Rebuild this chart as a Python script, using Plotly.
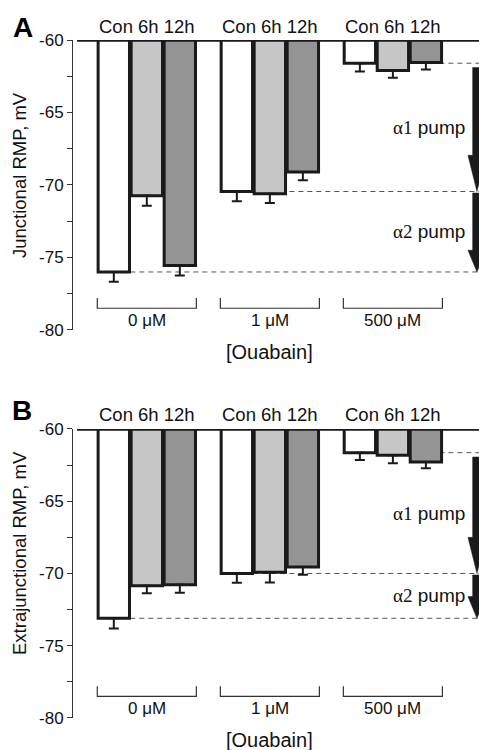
import plotly.graph_objects as go

# ---------------- data ----------------
groups = ["0 \u03bcM", "1 \u03bcM", "500 \u03bcM"]
conditions = ["Con", "6h", "12h"]
group_x = [0, 1, 2]

A_con = [-76.0, -70.45, -61.6]
A_6h = [-70.75, -70.6, -62.1]
A_12h = [-75.55, -69.1, -61.55]
A_con_err = [0.67, 0.68, 0.57]
A_6h_err = [0.69, 0.64, 0.5]
A_12h_err = [0.7, 0.58, 0.48]

B_con = [-73.1, -70.0, -61.64]
B_6h = [-70.84, -69.92, -61.82]
B_12h = [-70.78, -69.55, -62.28]
B_con_err = [0.7, 0.64, 0.5]
B_6h_err = [0.53, 0.7, 0.55]
B_12h_err = [0.55, 0.53, 0.44]

y_ticks = [-80, -75, -70, -65, -60]
y_titles = ["Junctional RMP, mV", "Extrajunctional RMP, mV"]
panel_letters = ["A", "B"]
x_title = "[Ouabain]"
pump_labels = ['<span style="font-family:Liberation Serif,serif">\u03b11</span> pump',
               '<span style="font-family:Liberation Serif,serif">\u03b12</span> pump']

# ---------------- style ----------------
colors = ["#ffffff", "#c6c6c6", "#949494"]
edge = "#1a1a1a"
FONT = "Liberation Sans, Arial, sans-serif"
BARGAP = 0.195
GROUPW = 1 - BARGAP
BAR_SLOT = GROUPW / 3

fig = go.Figure()

panels = [
    dict(vals=[A_con, A_6h, A_12h], errs=[A_con_err, A_6h_err, A_12h_err],
         xa="x", ya="y", dom=[0.5723, 1.0], xtitle_y=0.5398),
    dict(vals=[B_con, B_6h, B_12h], errs=[B_con_err, B_6h_err, B_12h_err],
         xa="x2", ya="y2", dom=[0.0, 0.4263], xtitle_y=-0.0324),
]

shapes = []
annotations = []

for p, pan in enumerate(panels):
    for i, cond in enumerate(conditions):
        fig.add_trace(go.Bar(
            x=group_x, y=pan["vals"][i], name=cond,
            xaxis=pan["xa"], yaxis=pan["ya"],
            marker=dict(color=colors[i], line=dict(color=edge, width=3)),
            error_y=dict(type="data", symmetric=False,
                         array=[0] * len(group_x), arrayminus=pan["errs"][i],
                         color=edge, thickness=2, width=5),
            showlegend=False, hoverinfo="skip",
        ))
    yref = pan["ya"]
    xref = pan["xa"]
    con = pan["vals"][0]
    # thick baseline at -60
    shapes.append(dict(type="line", xref="paper", yref=yref, x0=0.01, x1=1.0,
                       y0=-60, y1=-60, line=dict(color=edge, width=3.5), layer="above"))
    # dashed reference lines at control levels
    for g, v in zip(group_x, con):
        x0 = g - GROUPW / 2 + BAR_SLOT
        shapes.append(dict(type="line", xref=xref, yref=yref, x0=x0, x1=2.7,
                           y0=v, y1=v, line=dict(color="#555555", width=1, dash="5px,4px"),
                           layer="below"))
    # brackets under each group
    for g, lab in zip(group_x, groups):
        xl, xr = g - GROUPW / 2, g + GROUPW / 2
        shapes.append(dict(type="path", xref=xref, yref=yref,
                           path=f"M {xl},-77.8 L {xl},-78.5 L {xr},-78.5 L {xr},-77.8",
                           line=dict(color="#333333", width=1.2)))
        annotations.append(dict(x=g, y=-79.35, xref=xref, yref=yref, text=lab,
                                showarrow=False, font=dict(size=17, color="#111", family=FONT)))
        annotations.append(dict(x=g, y=-60, xref=xref, yref=yref, text=" ".join(conditions),
                                showarrow=False, yanchor="middle", yshift=14,
                                font=dict(size=18.5, color="#111", family=FONT)))
    annotations.append(dict(x=1, y=pan["xtitle_y"], xref=xref, yref="paper", text=x_title,
                            showarrow=False, yanchor="middle",
                            font=dict(size=20, color="#111", family=FONT)))
    # arrows: control at 500 uM -> control at 1 uM -> control at 0 uM
    levels = [con[2], con[1], con[0]]
    heads = [2.5, 1.5]
    cx, sw, hw = 0.995, 0.0106, 0.0222
    for k in range(2):
        top = levels[k] - 0.3 if k == 0 else levels[k] - 0.1
        tip = levels[k + 1]
        yh = tip + heads[k]
        shapes.append(dict(type="path", xref="paper", yref=yref,
                           path=(f"M {cx - sw},{top} L {cx + sw},{top} L {cx + sw},{yh} "
                                 f"L {cx + hw},{yh} L {cx},{tip} L {cx - hw},{yh} "
                                 f"L {cx - sw},{yh} Z"),
                           fillcolor=edge, line=dict(color=edge, width=0.5), layer="above"))
        annotations.append(dict(x=0.970, y=(levels[k] + levels[k + 1]) / 2, xref="paper",
                                yref=yref, text=pump_labels[k], showarrow=False,
                                xanchor="right", yanchor="middle",
                                font=dict(size=19, color="#111", family=FONT)))

# axis titles and panel letters
annotations.append(dict(x=-0.1305, y=0.8009, xref="paper", yref="paper", text=y_titles[0],
                        textangle=-90, showarrow=False, xanchor="center", yanchor="middle",
                        font=dict(size=18.5, color="#111", family=FONT)))
annotations.append(dict(x=-0.1305, y=0.2434, xref="paper", yref="paper", text=y_titles[1],
                        textangle=-90, showarrow=False, xanchor="center", yanchor="middle",
                        font=dict(size=18.5, color="#111", family=FONT)))
annotations.append(dict(x=-0.123, y=1.0184, xref="paper", yref="paper",
                        text=f"<b>{panel_letters[0]}</b>", showarrow=False,
                        xanchor="center", yanchor="middle",
                        font=dict(size=28, color="#000", family=FONT)))
annotations.append(dict(x=-0.1256, y=0.4535, xref="paper", yref="paper",
                        text=f"<b>{panel_letters[1]}</b>", showarrow=False,
                        xanchor="center", yanchor="middle",
                        font=dict(size=28, color="#000", family=FONT)))

yaxis_common = dict(range=[-80, -60], tickvals=y_ticks, ticktext=[str(t) for t in y_ticks],
                    showline=True, linecolor="#333333", linewidth=1,
                    ticks="outside", ticklen=5, tickwidth=1, tickcolor="#333333",
                    minor=dict(dtick=2.5, tick0=-80, ticks="outside", ticklen=5,
                               tickwidth=1, tickcolor="#333333"),
                    showgrid=False, zeroline=False,
                    tickfont=dict(size=17, color="#111", family=FONT))
xaxis_common = dict(range=[-0.6, 2.7], visible=False, showgrid=False, zeroline=False)

fig.update_layout(
    width=479, height=750,
    margin=dict(l=73, r=0, t=40, b=32),
    paper_bgcolor="white", plot_bgcolor="rgba(0,0,0,0)",
    barmode="group", bargap=BARGAP, bargroupgap=0.05,
    xaxis=dict(domain=[0, 1], anchor="y", **xaxis_common),
    xaxis2=dict(domain=[0, 1], anchor="y2", **xaxis_common),
    yaxis=dict(domain=panels[0]["dom"], anchor="x", **yaxis_common),
    yaxis2=dict(domain=panels[1]["dom"], anchor="x2", **yaxis_common),
    shapes=shapes, annotations=annotations,
    font=dict(family=FONT),
)

fig.write_html("out.html", config={"displayModeBar": False},
               post_script="document.body.style.margin='0';document.body.style.overflow='hidden';")
